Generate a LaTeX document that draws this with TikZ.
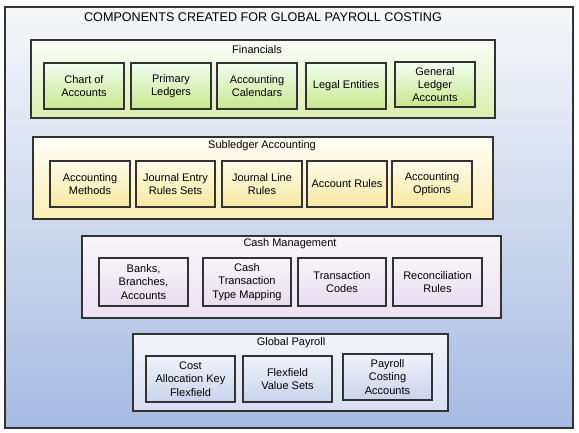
\documentclass[tikz,border=0pt]{standalone}
\usepackage{fontspec}
\setmainfont{Liberation Sans}
\usepackage{tikz}
\usetikzlibrary{shadows}

\definecolor{edge}{HTML}{333333}
\tikzset{
	comp/.style={draw=edge, line width=1.1pt, align=center, inner sep=1pt,
		font=\fontsize{11}{13.3}\selectfont, drop shadow={shadow xshift=1pt,shadow yshift=-1pt,opacity=.35}},
	grptitle/.style={font=\fontsize{11}{13}\selectfont, inner sep=0pt},
	fin/.style={comp, top color=green!5!white, bottom color={rgb,255:red,200;green,230;blue,140}},
	sla/.style={comp, top color={rgb,255:red,255;green,252;blue,236}, bottom color={rgb,255:red,248;green,232;blue,160}},
	cash/.style={comp, top color={rgb,255:red,248;green,245;blue,250}, bottom color={rgb,255:red,232;green,220;blue,240}},
	pay/.style={comp, top color={rgb,255:red,240;green,242;blue,250}, bottom color={rgb,255:red,200;green,212;blue,236}}
}

\begin{document}
\begin{tikzpicture}[x=1pt,y=-1pt]
\useasboundingbox (0,0) rectangle (579,433);

% outer frame
\draw[draw=edge, line width=1.2pt, top color={rgb,255:red,247;green,247;blue,249}, bottom color={rgb,255:red,166;green,187;blue,226}]
	(5,7) rectangle (573,428);
\node[font=\fontsize{12.6}{14}\selectfont] (title) at (263,17) {COMPONENTS CREATED FOR GLOBAL PAYROLL COSTING};

% Financials
\draw[draw=edge, line width=1.1pt, top color={rgb,255:red,252;green,253;blue,248}, bottom color={rgb,255:red,220;green,238;blue,176}]
	(31,40) rectangle (495,118);
\node[grptitle] (fintitle) at (257,50) {Financials};
\node[fin, minimum width=80pt, minimum height=46pt] (coa) at (84,86) {Chart of\\Accounts};
\node[fin, minimum width=80pt, minimum height=46pt] (pl) at (171,86) {Primary\\Ledgers};
\node[fin, minimum width=80pt, minimum height=46pt] (acal) at (257,86) {Accounting\\Calendars};
\node[fin, minimum width=80pt, minimum height=46pt] (le) at (346,86) {Legal Entities};
\node[fin, minimum width=80pt, minimum height=45pt] (gla) at (435,84.5) {General\\Ledger\\Accounts};

% Subledger Accounting
\draw[draw=edge, line width=1.1pt, top color={rgb,255:red,255;green,254;blue,246}, bottom color={rgb,255:red,250;green,238;blue,180}]
	(33,137) rectangle (493,219);
\node[grptitle] (slatitle) at (262,146) {Subledger Accounting};
\node[sla, minimum width=80pt, minimum height=46pt] (am) at (90,184) {Accounting\\Methods};
\node[sla, minimum width=79pt, minimum height=46pt] (jers) at (175.5,184) {Journal Entry\\Rules Sets};
\node[sla, minimum width=80pt, minimum height=46pt] (jlr) at (262,184) {Journal Line\\Rules};
\node[sla, minimum width=80pt, minimum height=46pt] (ar) at (347,184) {Account Rules};
\node[sla, minimum width=80pt, minimum height=46pt] (ao) at (432,184) {Accounting\\Options};

% Cash Management
\draw[draw=edge, line width=1.1pt, top color={rgb,255:red,248;green,246;blue,250}, bottom color={rgb,255:red,236;green,226;blue,242}]
	(82,236) rectangle (501,318);
\node[grptitle] (cmtitle) at (290,244) {Cash Management};
\node[cash, minimum width=89pt, minimum height=48pt] (bba) at (143.5,282) {Banks,\\Branches,\\Accounts};
\node[cash, minimum width=88pt, minimum height=48pt] (cttm) at (247,282) {Cash\\Transaction\\Type Mapping};
\node[cash, minimum width=88pt, minimum height=48pt] (tc) at (342,282) {Transaction\\Codes};
\node[cash, minimum width=89pt, minimum height=48pt] (rr) at (437.5,282) {Reconciliation\\Rules};

% Global Payroll
\draw[draw=edge, line width=1.1pt, top color={rgb,255:red,244;green,245;blue,250}, bottom color={rgb,255:red,214;green,222;blue,240}]
	(133,334) rectangle (448,411);
\node[grptitle] (gptitle) at (291,343) {Global Payroll};
\node[pay, minimum width=89pt, minimum height=46pt] (cakf) at (190.5,379) {Cost\\Allocation Key\\Flexfield};
\node[pay, minimum width=89pt, minimum height=46pt] (fvs) at (287.5,379) {Flexfield\\Value Sets};
\node[pay, minimum width=89pt, minimum height=46pt] (pca) at (387.5,377) {Payroll\\Costing\\Accounts};

\end{tikzpicture}
\end{document}
